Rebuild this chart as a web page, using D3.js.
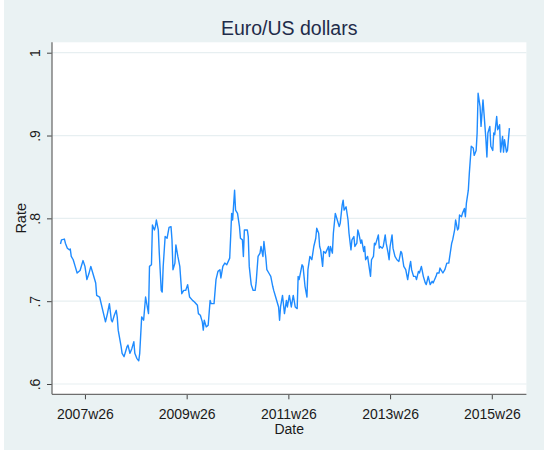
<!DOCTYPE html>
<html>
<head>
<meta charset="utf-8">
<script src="https://cdn.jsdelivr.net/npm/d3@7/dist/d3.min.js"></script>
<style>
  body { margin: 0; background: #fff; }
  text { font-family: "Liberation Sans", Arial, sans-serif; }
</style>
</head>
<body>
<script>
// weekly Euro/US dollar rate, weeks counted from 2007w1
var startYear = 2007;
var weeks = [0,1,4,5,7,9,10,11,13,15,17,20,23,25,27,29,31,33,36,37,40,44,46,48,50,52,53,55,57,58,
  59,62,63,65,68,69,71,73,75,76,78,80,81,83,85,87,90,91,93,94,96,97,98,100,101,103,104,105,107,109,
  111,113,114,115,117,118,120,122,124,126,128,130,132,135,137,140,141,143,145,146,147,149,151,153,154,157,159,161,163,164,
  166,168,170,173,174,175,176,178,179,181,183,184,186,187,188,191,192,193,195,197,199,200,202,204,205,207,208,210,211,213,
  215,217,218,220,223,224,225,227,229,231,232,234,236,238,240,242,243,244,247,248,250,252,253,255,257,259,261,262,264,265,
  266,268,269,271,274,275,276,278,279,281,283,285,286,288,289,290,292,294,295,297,298,300,301,303,304,305,307,308,310,311,
  312,314,315,317,318,320,321,322,325,326,327,329,330,332,333,335,336,337,339,340,342,344,346,348,349,351,353,355,357,358,
  359,361,363,364,366,367,369,371,373,374,376,378,380,381,384,385,387,388,391,393,395,397,398,400,401,403,404,406,407,408,
  410,411,413,414,415,417,418,420,422,423,425,426,427,429,430,432,433,435,436,437,439,440,442,443,444,446,447,449,450,452,
  453,454,456,457,459];
var rate = [.769,.774,.775,.770,.764,.762,.763,.754,.750,.742,
  .734,.737,.749,.742,.726,.733,.742,.734,.722,.707,
  .705,.685,.675,.685,.697,.677,.675,.683,.689,.681,
  .665,.645,.637,.633,.645,.647,.637,.643,.651,.637,
  .631,.628,.637,.681,.677,.705,.685,.742,.744,.792,
  .786,.790,.798,.786,.758,.713,.711,.742,.778,.776,
  .789,.790,.774,.738,.746,.768,.754,.742,.709,.713,
  .713,.720,.705,.701,.699,.695,.685,.683,.675,.665,
  .677,.669,.671,.701,.697,.697,.726,.736,.738,.728,
  .742,.746,.744,.752,.778,.806,.798,.834,.810,.806,
  .790,.776,.774,.754,.786,.786,.778,.742,.720,.713,
  .713,.722,.754,.758,.766,.754,.772,.752,.738,.734,
  .730,.718,.713,.705,.693,.677,.693,.707,.685,.701,
  .693,.707,.693,.707,.693,.691,.730,.726,.744,.742,
  .718,.705,.738,.754,.750,.766,.776,.788,.782,.766,
  .762,.742,.760,.758,.766,.754,.766,.758,.782,.806,
  .798,.790,.794,.816,.822,.810,.814,.798,.782,.762,
  .774,.778,.766,.770,.786,.782,.770,.774,.760,.766,
  .750,.754,.746,.730,.750,.754,.770,.768,.780,.764,
  .766,.764,.766,.780,.770,.758,.750,.766,.780,.764,
  .754,.750,.748,.760,.758,.742,.738,.726,.742,.748,
  .738,.730,.730,.726,.736,.734,.742,.730,.722,.720,
  .730,.720,.724,.722,.730,.734,.734,.740,.734,.738,
  .746,.746,.754,.770,.774,.786,.798,.786,.788,.804,
  .802,.806,.812,.802,.818,.834,.854,.887,.885,.876,
  .882,.903,.951,.935,.911,.943,.927,.895,.874,.903,
  .911,.887,.882,.903,.901,.923,.907,.913,.880,.899,
  .880,.895,.880,.882,.909];

var xTickLabels = ["2007w26", "2009w26", "2011w26", "2013w26", "2015w26"];
var yTicks = [0.6, 0.7, 0.8, 0.9, 1];

var svgWidth = 544;
var svgHeight = 452;

// plot region (white box)
var plot = { left: 52, right: 526.4, top: 42.3, bottom: 394.3 };

var data = weeks.map(function (w, i) {
  return { week: w, rate: rate[i] };
});

// "2009w26" -> weeks since 2007w1 (Stata weeks: 52 per year)
function weekOf(label) {
  var parts = label.split("w");
  return (+parts[0] - startYear) * 52 + (+parts[1] - 1);
}

var svg = d3.select("body")
  .append("svg")
  .attr("width", svgWidth)
  .attr("height", svgHeight);

// graph region background
svg.append("rect")
  .attr("x", 4).attr("y", 0)
  .attr("width", svgWidth - 4).attr("height", svgHeight - 2)
  .attr("fill", "#eaf2f3");

svg.append("rect")
  .attr("x", plot.left).attr("y", plot.top)
  .attr("width", plot.right - plot.left).attr("height", plot.bottom - plot.top)
  .attr("fill", "#ffffff");

var xScale = d3.scaleLinear()
  .domain(d3.extent(weeks))
  .range([plot.left + 8.5, plot.right - 17]);

var yScale = d3.scaleLinear()
  .domain([0.6, 1])
  .range([384, 52.7]);

// gridlines
svg.append("g")
  .selectAll("line")
  .data(yTicks)
  .enter()
  .append("line")
  .attr("x1", plot.left)
  .attr("x2", plot.right)
  .attr("y1", d => yScale(d))
  .attr("y2", d => yScale(d))
  .attr("stroke", "#e7eff1")
  .attr("stroke-width", 1.2);

// the series
var line = d3.line()
  .x(d => xScale(d.week))
  .y(d => yScale(d.rate));

svg.append("path")
  .datum(data)
  .attr("fill", "none")
  .attr("stroke", "#1e8bff")
  .attr("stroke-width", 1.4)
  .attr("stroke-linejoin", "round")
  .attr("d", line);

// axes
var bottomAxis = d3.axisBottom(xScale)
  .tickValues(xTickLabels.map(weekOf))
  .tickFormat((d, i) => xTickLabels[i])
  .tickSize(5)
  .tickPadding(10);

var leftAxis = d3.axisLeft(yScale)
  .tickValues(yTicks)
  .tickFormat(d => d === 1 ? "1" : String(d).replace("0.", "."))
  .tickSize(5);

var xAxisG = svg.append("g")
  .attr("transform", `translate(0, ${plot.bottom})`)
  .call(bottomAxis);

var yAxisG = svg.append("g")
  .attr("transform", `translate(${plot.left}, 0)`)
  .call(leftAxis);

[xAxisG, yAxisG].forEach(function (g) {
  g.select(".domain").remove();
  g.selectAll(".tick line").attr("stroke", "#444").attr("stroke-width", 1);
  g.selectAll(".tick text")
    .attr("fill", "#1a1a1a")
    .style("font-size", "14px")
    .style("font-family", "'Liberation Sans', Arial, sans-serif");
});

// rotated y tick labels, like Stata
yAxisG.selectAll(".tick text")
  .attr("x", null)
  .attr("dy", null)
  .attr("text-anchor", "middle")
  .attr("transform", "translate(-12.2, 0) rotate(-90)");

// axis lines spanning the whole plot region
svg.append("line")
  .attr("x1", plot.left).attr("x2", plot.left)
  .attr("y1", plot.top).attr("y2", plot.bottom)
  .attr("stroke", "#6e6e6e").attr("stroke-width", 1.3);

svg.append("line")
  .attr("x1", plot.left).attr("x2", plot.right)
  .attr("y1", plot.bottom).attr("y2", plot.bottom)
  .attr("stroke", "#6e6e6e").attr("stroke-width", 1.3);

// titles
svg.append("text")
  .attr("x", (plot.left + plot.right) / 2)
  .attr("y", 35)
  .attr("text-anchor", "middle")
  .attr("fill", "#1f2c4a")
  .style("font-size", "19.5px")
  .text("Euro/US dollars");

svg.append("text")
  .attr("x", (plot.left + plot.right) / 2)
  .attr("y", 434)
  .attr("text-anchor", "middle")
  .attr("fill", "#1a1a1a")
  .style("font-size", "14px")
  .text("Date");

svg.append("text")
  .attr("transform", `translate(26, ${(plot.top + plot.bottom) / 2}) rotate(-90)`)
  .attr("text-anchor", "middle")
  .attr("fill", "#1a1a1a")
  .style("font-size", "14.5px")
  .text("Rate");
</script>
</body>
</html>
